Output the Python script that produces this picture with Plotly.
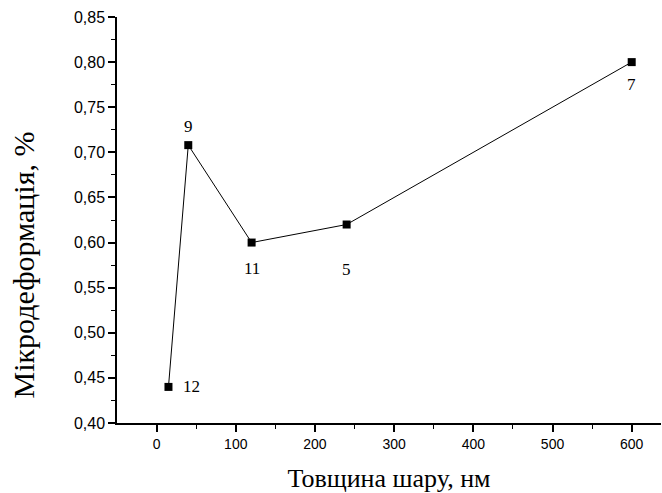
import plotly.graph_objects as go

thickness = [15, 40, 120, 240, 600]
strain = [0.44, 0.708, 0.60, 0.62, 0.80]
labels = ["12", "9", "11", "5", "7"]
label_dx = [23, 0, 0, 0, 0]
label_dy = [0, -19, 26, 45, 22]

x_ticks = [0, 100, 200, 300, 400, 500, 600]
x_minor = [50, 150, 250, 350, 450, 550]
y_ticks = [0.40, 0.45, 0.50, 0.55, 0.60, 0.65, 0.70, 0.75, 0.80, 0.85]
y_ticktext = ["0,40", "0,45", "0,50", "0,55", "0,60", "0,65", "0,70", "0,75", "0,80", "0,85"]
y_minor = [0.425, 0.475, 0.525, 0.575, 0.625, 0.675, 0.725, 0.775, 0.825]

serif = "Liberation Serif, Times New Roman, serif"
sans = "Liberation Sans, Arial, sans-serif"

fig = go.Figure()
fig.add_trace(go.Scatter(
    x=thickness, y=strain, mode="lines+markers",
    line=dict(color="black", width=1),
    marker=dict(symbol="square", size=8, color="black"),
    showlegend=False, cliponaxis=False,
))

for xv, yv, t, dx, dy in zip(thickness, strain, labels, label_dx, label_dy):
    fig.add_annotation(x=xv, y=yv, xref="x", yref="y", text=t, showarrow=False,
                       xshift=dx, yshift=-dy, xanchor="center", yanchor="middle",
                       font=dict(family=serif, size=17, color="black"))

fig.add_annotation(text="Мікродеформація, %", xref="paper", yref="paper",
                   x=-0.172, y=0.389, textangle=-90, showarrow=False,
                   xanchor="center", yanchor="middle",
                   font=dict(family=serif, size=30, color="black"))

fig.update_layout(
    width=662, height=493,
    margin=dict(l=117, r=1, t=17, b=70),
    plot_bgcolor="white", paper_bgcolor="white",
    xaxis=dict(
        range=[-50, 637], tickvals=x_ticks, showgrid=False, zeroline=False,
        showline=True, linecolor="black", linewidth=1.5,
        ticks="outside", ticklen=7, tickwidth=1.5, tickcolor="black",
        minor=dict(tickvals=x_minor, ticks="outside", ticklen=4, tickwidth=1.2, tickcolor="black"),
        tickfont=dict(family=sans, size=14, color="black"),
        title=dict(text="Товщина шару, нм", standoff=18,
                   font=dict(family=serif, size=26, color="black")),
    ),
    yaxis=dict(
        range=[0.40, 0.85], tickvals=y_ticks, ticktext=y_ticktext, showgrid=False, zeroline=False,
        showline=True, linecolor="black", linewidth=1.5,
        ticks="outside", ticklen=7, tickwidth=1.5, tickcolor="black",
        minor=dict(tickvals=y_minor, ticks="outside", ticklen=4, tickwidth=1.2, tickcolor="black"),
        tickfont=dict(family=sans, size=16, color="black"),
    ),
)

fig.write_html("out.html")
